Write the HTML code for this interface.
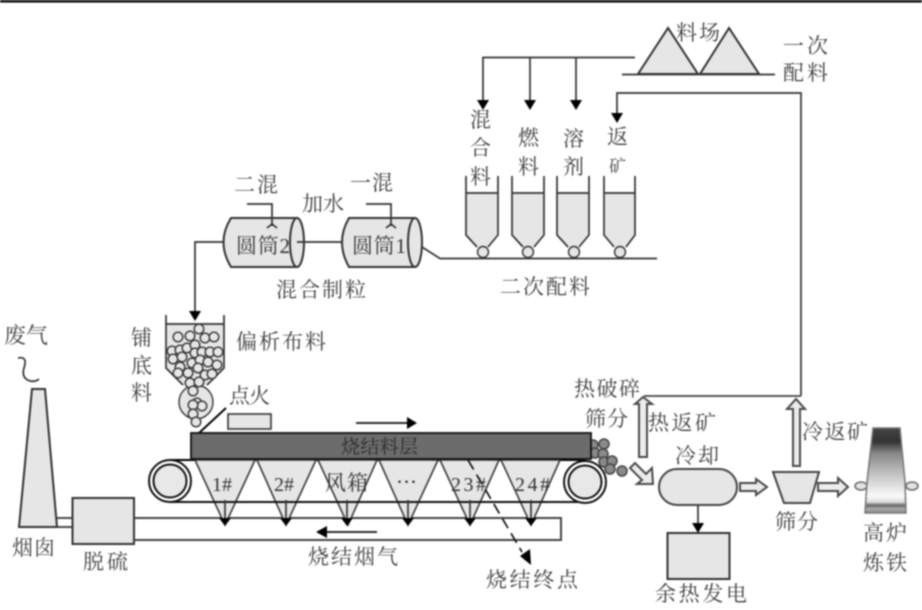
<!DOCTYPE html>
<html><head><meta charset="utf-8">
<style>
html,body{margin:0;padding:0;background:#fff}
body{width:922px;height:610px;overflow:hidden}
svg{display:block;filter:blur(.75px)}
text{font-family:"Liberation Serif","Noto Serif CJK SC",serif;font-size:21px;fill:#3f3f3f}
.s{fill:none;stroke:#333;stroke-width:1.7}
.f{fill:#e6e6e6;stroke:#333;stroke-width:2}
.h{fill:#ececec;stroke:#4a4a4a;stroke-width:2}
.b{fill:#e6e6e6;stroke:#333;stroke-width:1.4}
.d{fill:#8a8a8a;stroke:#444;stroke-width:1.5}
.a{fill:#000}
</style></head><body>
<svg width="922" height="610" viewBox="0 0 922 610" xmlns="http://www.w3.org/2000/svg">
<defs><linearGradient id="g" x1="0" y1="0" x2="0" y2="1">
<stop offset="0" stop-color="#444"/><stop offset=".16" stop-color="#333"/><stop offset=".3" stop-color="#888"/><stop offset=".55" stop-color="#c4c4c4"/><stop offset=".8" stop-color="#fafafa"/><stop offset=".87" stop-color="#ddd"/><stop offset=".91" stop-color="#666"/><stop offset=".95" stop-color="#aaa"/><stop offset="1" stop-color="#888"/>
</linearGradient></defs>
<rect x="0" y="0" width="922" height="2.6" fill="#111"/>

<!-- material yard -->
<polygon class="f" points="668,28 638,74 698,74"/>
<polygon class="f" points="729,28 700,74 759,74"/>
<path class="s" d="M622 74.5H775M635 57.500H483V102M530 57.500V102M576 57.500V102"/>
<polygon class="a" points="477,100 489,100 483,110"/>
<polygon class="a" points="524,100 536,100 530,110"/>
<polygon class="a" points="570,100 582,100 576,110"/>
<path class="s" d="M801 396V93H617V115"/>
<polygon class="a" points="611,113 623,113 617,123"/>

<!-- bins -->
<path fill="#e6e6e6" d="M466 193H498V235L488 247H477L466 235Z"/>
<path class="s" d="M466 176V235L477 247M498 176V235L488 247M466 193H498"/>
<circle class="b" cx="483" cy="252" r="5.500"/>
<path fill="#e6e6e6" d="M512 193H544V235L534 247H523L512 235Z"/>
<path class="s" d="M512 176V235L523 247M544 176V235L534 247M512 193H544"/>
<circle class="b" cx="528" cy="252" r="5.500"/>
<path fill="#e6e6e6" d="M557 193H589V235L579 247H568L557 235Z"/>
<path class="s" d="M557 176V235L568 247M589 176V235L579 247M557 193H589"/>
<circle class="b" cx="574" cy="252" r="5.500"/>
<path fill="#e6e6e6" d="M604 193H635V235L626 247H614L604 235Z"/>
<path class="s" d="M604 176V235L614 247M635 176V235L626 247M604 193H635"/>
<circle class="b" cx="620" cy="252" r="5.500"/>
<path class="s" d="M422 247L440 258.500H657"/>

<!-- drums -->
<path class="f" d="M231 218H297Q304 242 297 267H231Q216 242 231 218Z"/>
<ellipse class="f" cx="297" cy="242.500" rx="7" ry="24.500"/>
<path class="f" d="M349 218H415Q422 242 415 267H349Q335 242 349 218Z"/>
<ellipse class="f" cx="415" cy="242.500" rx="7" ry="24.500"/>
<path class="s" d="M297 242H343M223 242H195V312"/>
<polygon class="a" points="189,311 201,311 195,321"/>
<path class="s" d="M247 204H272V226M267 228L272 224L277 228M366 204H391V226M386 228L391 224L396 228"/>

<!-- hopper -->
<path fill="#e6e6e6" d="M166 324H224V368L207 385H183L166 368Z"/>
<circle class="b" cx="196" cy="402" r="17"/>
<path class="s" d="M166 315V368L183 385M224 315V368L207 385M166 324H224"/>
<circle class="b" cx="199" cy="329" r="4.800"/><circle class="b" cx="178" cy="337" r="4.800"/><circle class="b" cx="190" cy="336" r="4.800"/><circle class="b" cx="205" cy="338" r="4.800"/><circle class="b" cx="214" cy="337" r="4.800"/>
<circle class="b" cx="172" cy="351" r="4.800"/><circle class="b" cx="180" cy="350" r="4.800"/><circle class="b" cx="187" cy="348" r="4.800"/><circle class="b" cx="195" cy="345" r="4.800"/><circle class="b" cx="195" cy="353" r="4.800"/><circle class="b" cx="202" cy="352" r="4.800"/><circle class="b" cx="210" cy="352" r="4.800"/><circle class="b" cx="218" cy="352" r="4.800"/>
<circle class="b" cx="173" cy="359" r="4.800"/><circle class="b" cx="182" cy="357" r="4.800"/><circle class="b" cx="192" cy="363" r="4.800"/><circle class="b" cx="200" cy="360" r="4.800"/><circle class="b" cx="208" cy="362" r="4.800"/><circle class="b" cx="217" cy="365" r="4.800"/>
<circle class="b" cx="180" cy="367" r="4.800"/><circle class="b" cx="178" cy="373" r="4.800"/><circle class="b" cx="188" cy="373" r="4.800"/><circle class="b" cx="198" cy="368" r="4.800"/><circle class="b" cx="205" cy="375" r="4.800"/><circle class="b" cx="212" cy="374" r="4.800"/>
<circle class="b" cx="190" cy="383" r="4.800"/><circle class="b" cx="199" cy="382" r="4.800"/><circle class="b" cx="193" cy="391" r="4.800"/><circle class="b" cx="197" cy="403" r="4.800"/><circle class="b" cx="202" cy="406" r="4.800"/><circle class="b" cx="193" cy="405" r="4.800"/><circle class="b" cx="193" cy="414" r="4.800"/><circle class="b" cx="196" cy="422" r="4.800"/>
<path class="s" style="stroke:#000;stroke-width:1.9" d="M199 433L226 408"/>
<rect class="f" x="228" y="414" width="43" height="15" style="stroke-width:1.6"/>

<!-- stack -->
<path class="s" d="M18 358Q28 356 24 368Q21 378 30 381Q36 382 39 379"/>
<polygon class="f" points="32,389 45,389 57,527 19,527"/>
<path class="s" d="M57 518H72M57 527H72"/>
<rect class="f" x="72.500" y="498" width="61.500" height="46"/>

<!-- flue duct -->
<path class="s" style="stroke:#444;stroke-width:2" d="M134 518H561V540H134"/>

<!-- sinter strand -->
<path class="s" style="stroke:#000;stroke-width:2" d="M170 460H585"/>
<polygon fill="#e6e6e6" stroke="#3a3a3a" stroke-width="1.600" points="195,460 255,460 225,525"/>
<polygon fill="#e6e6e6" stroke="#3a3a3a" stroke-width="1.600" points="257,460 316,460 286,525"/>
<polygon fill="#e6e6e6" stroke="#3a3a3a" stroke-width="1.600" points="318,460 377,460 348,525"/>
<polygon fill="#e6e6e6" stroke="#3a3a3a" stroke-width="1.600" points="379,460 438,460 408,525"/>
<polygon fill="#e6e6e6" stroke="#3a3a3a" stroke-width="1.600" points="440,460 499,460 470,525"/>
<polygon fill="#e6e6e6" stroke="#3a3a3a" stroke-width="1.600" points="501,460 560,460 531,525"/>
<path d="M170 502H585" stroke="#111" stroke-width="2"/>
<path class="s" d="M225 500V520M286 500V520M347 500V520M408 500V520M470 500V520M531 500V520"/>
<polygon class="a" points="219,518 231,518 225,526"/><polygon class="a" points="280,518 292,518 286,526"/><polygon class="a" points="341,518 353,518 347,526"/><polygon class="a" points="402,518 414,518 408,526"/><polygon class="a" points="464,518 476,518 470,526"/><polygon class="a" points="525,518 537,518 531,526"/>

<circle cx="170" cy="481" r="21" fill="#fff" stroke="#111" stroke-width="2"/>
<circle cx="170" cy="481" r="16.500" fill="#e8e8e8" stroke="#111" stroke-width="2"/>
<circle cx="604" cy="444" r="5" class="d"/><circle cx="593" cy="445" r="5" class="d"/><circle cx="595" cy="453" r="5" class="d"/><circle cx="603" cy="454" r="5" class="d"/><circle cx="604" cy="462" r="5" class="d"/><circle cx="612" cy="461" r="5" class="d"/><circle cx="610" cy="469" r="5" class="d"/><circle cx="622" cy="471" r="5" class="d"/>
<circle cx="585" cy="482" r="21" fill="#fff" stroke="#111" stroke-width="2"/>
<circle cx="585" cy="482" r="16.500" fill="#e8e8e8" stroke="#111" stroke-width="2"/>
<rect x="191" y="433" width="400" height="26" fill="#6c6c6c" stroke="#111" stroke-width="1.800"/>

<path class="s" style="stroke:#111" d="M356 423H408"/><polygon class="a" points="407,417 417,423 407,429"/>
<path class="s" style="stroke:#111" d="M377 532H326"/><polygon class="a" points="327,526 316,532 327,538"/>
<path class="s" style="stroke:#111" stroke-dasharray="11 6" d="M468 460L522 552"/><polygon class="a" points="520,556 530,549 531,565"/>

<!-- right part -->
<polygon class="h" points="639,457 647,457 647,404 652,404 643,397 635,404 639,404"/>
<path class="s" style="stroke:#444" d="M644 396H801"/>
<polygon class="h" points="793,466 800,466 800,409 805,409 796,399 787,409 793,409"/>
<polygon class="h" points="630,468 635,463 646,474 652,468 653,484 637,484 642,480"/>
<rect class="f" x="659" y="469" width="78" height="36" rx="18" style="stroke:#444"/>
<polygon class="h" points="740,483 756,483 756,479 767,487 756,495 756,491 740,491"/>
<polygon class="f" points="773,472 819,472 810,503 784,503" style="stroke:#444"/>
<polygon class="h" points="818,483 838,483 838,478 848,487 838,496 838,491 818,491"/>
<path class="s" d="M698 505V526"/><polygon class="a" points="692,523 704,523 698,533"/>
<rect class="f" x="667.500" y="533" width="62" height="46"/>

<!-- furnace -->
<ellipse cx="861" cy="486" rx="6" ry="4" fill="#e2e2e2" stroke="#666" stroke-width="1.500"/>
<ellipse cx="912" cy="486" rx="6" ry="4" fill="#e2e2e2" stroke="#666" stroke-width="1.500"/>
<polygon fill="url(#g)" stroke="#777" stroke-width="1.500" points="873,428 900,428 905,482 906,513 865,513 867,482"/>

<!-- labels -->
<text x="4" y="343" style="font-size:22px" textLength="44">废气</text>
<text x="12" y="555" textLength="43">烟囱</text>
<text x="83" y="569" textLength="45">脱硫</text>
<text x="131" y="345">铺</text><text x="131" y="373">底</text><text x="131" y="400">料</text>
<text x="236" y="349" textLength="90">偏析布料</text>
<text x="229" y="403" textLength="41">点火</text>
<text x="341" y="453" textLength="77" style="font-size:19px;fill:#2a2a2a">烧结料层</text>
<text x="212" y="491" style="font-size:20px;fill:#333">1#</text>
<text x="274" y="491" style="font-size:20px;fill:#333">2#</text>
<text x="325" y="490" textLength="43" style="fill:#333">风箱</text>
<text x="396" y="489" style="fill:#222">···</text>
<text x="451" y="491" style="font-size:20px;fill:#333" textLength="35">23#</text>
<text x="515" y="491" style="font-size:20px;fill:#333" textLength="35">24#</text>
<text x="308" y="564" textLength="90">烧结烟气</text>
<text x="486" y="587" textLength="92">烧结终点</text>
<text x="574" y="396" textLength="66">热破碎</text>
<text x="585" y="426" textLength="43">筛分</text>
<text x="648" y="430" textLength="68">热返矿</text>
<text x="675" y="463" textLength="44">冷却</text>
<text x="775" y="529" textLength="43">筛分</text>
<text x="802" y="439" textLength="66">冷返矿</text>
<text x="863" y="540" textLength="44">高炉</text>
<text x="863" y="570" textLength="44">炼铁</text>
<text x="655" y="601" textLength="92">余热发电</text>
<text x="676" y="40" textLength="44" style="font-size:21px">料场</text>
<text x="783" y="53" textLength="45">一次</text>
<text x="783" y="80" textLength="45">配料</text>
<text x="470" y="127">混</text><text x="470" y="155">合</text><text x="470" y="184">料</text>
<text x="518" y="145">燃</text><text x="518" y="174">料</text>
<text x="563" y="146">溶</text><text x="563" y="174">剂</text>
<text x="607" y="144">返</text><text x="609" y="172" style="font-size:17px">矿</text>
<text x="234" y="192" textLength="44">二混</text>
<text x="350" y="190" textLength="43">一混</text>
<text x="302" y="211" textLength="42">加水</text>
<text x="236" y="253" textLength="54" style="fill:#333">圆筒2</text>
<text x="352" y="253" textLength="54" style="fill:#333">圆筒1</text>
<text x="276" y="297" textLength="90">混合制粒</text>
<text x="500" y="294" textLength="90">二次配料</text>
</svg>
</body></html>
